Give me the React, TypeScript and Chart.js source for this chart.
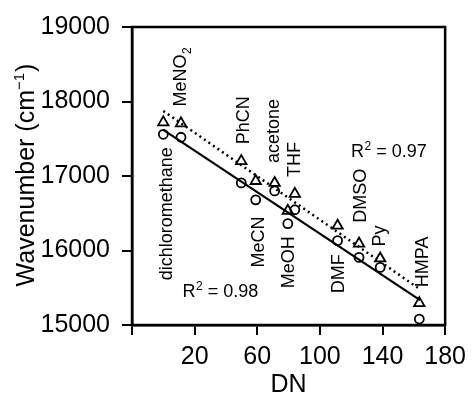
import React, { useEffect, useRef } from 'react';
import { Chart, registerables } from 'chart.js';

Chart.register(...registerables);

// ---- data ----
const solvents = ['dichloromethane', 'MeNO2', 'PhCN', 'MeCN', 'acetone', 'MeOH', 'THF', 'DMF', 'DMSO', 'Py', 'HMPA'];
const donorNumber = [0, 11.3, 49.8, 59, 71.1, 79.5, 84, 111.3, 125, 138.5, 163.5];
const circleWavenumber = [17560, 17520, 16907, 16680, 16800, 16360, 16547, 16133, 15907, 15773, 15080];
const triangleWavenumber = [17720, 17707, 17200, 16933, 16907, 16533, 16760, 16333, 16093, 15893, 15293];
const solidFitX = [0, 164];
const solidFitY = [17620, 15333];
const dottedFitX = [0, 163];
const dottedFitY = [17873, 15493];
const xTicks = [-20, 20, 60, 100, 140, 180];
const yTicks = [15000, 16000, 17000, 18000, 19000];
const r2Values = ['0.98', '0.97'];

// ---- annotation anchors (data coordinates) ----
const labelAnchorX = [5.3, 14.8, 54.7, 64.2, 73.7, 83.2, 87.6, 115.4, 129.4, 141.4, 169.2];
const labelAnchorY = [15600, 17933, 17427, 15773, 17173, 15493, 16987, 15427, 16373, 16053, 15507];
const r2AnchorX = [12.3, 119.9];
const r2AnchorY = [15373, 17253];

const FONT = '"Liberation Sans", Arial, Helvetica, sans-serif';

export default function App() {
  const ref = useRef<HTMLCanvasElement>(null);

  useEffect(() => {
    const canvas = ref.current!;
    const toPts = (xs: number[], ys: number[]) => xs.map((x, i) => ({ x, y: ys[i] }));

    const textPlugin = {
      id: 'textPlugin',
      afterDraw(chart: any) {
        const { ctx, chartArea, scales } = chart;
        const xs = scales.x;
        const ys = scales.y;
        ctx.save();
        // frame
        ctx.strokeStyle = '#000';
        ctx.lineWidth = 2.5;
        ctx.strokeRect(chartArea.left, chartArea.top, chartArea.right - chartArea.left, chartArea.bottom - chartArea.top);

        ctx.fillStyle = '#000';
        // solvent labels (rotated)
        solvents.forEach((s, i) => {
          const px = xs.getPixelForValue(labelAnchorX[i]);
          const py = ys.getPixelForValue(labelAnchorY[i]);
          ctx.save();
          ctx.translate(px, py);
          ctx.rotate(-Math.PI / 2);
          ctx.textAlign = 'left';
          ctx.textBaseline = 'alphabetic';
          ctx.font = `18px ${FONT}`;
          const m = s.match(/^(.*?)(\d+)$/);
          if (m) {
            ctx.fillText(m[1], 0, 0);
            const w = ctx.measureText(m[1]).width;
            ctx.font = `12px ${FONT}`;
            ctx.fillText(m[2], w + 0.5, 5);
          } else {
            ctx.fillText(s, 0, 0);
          }
          ctx.restore();
        });

        // R^2 labels
        r2Values.forEach((v, i) => {
          const px = xs.getPixelForValue(r2AnchorX[i]);
          const py = ys.getPixelForValue(r2AnchorY[i]);
          ctx.textAlign = 'left';
          ctx.textBaseline = 'alphabetic';
          ctx.font = `18px ${FONT}`;
          ctx.fillText('R', px, py);
          let w = ctx.measureText('R').width;
          ctx.font = `12px ${FONT}`;
          ctx.fillText('2', px + w + 0.5, py - 7);
          w += ctx.measureText('2').width + 0.5;
          ctx.font = `18px ${FONT}`;
          ctx.fillText(' = ' + v, px + w, py);
        });

        // y-axis title
        ctx.save();
        ctx.translate(34, (chartArea.top + chartArea.bottom) / 2 - 1);
        ctx.rotate(-Math.PI / 2);
        ctx.textBaseline = 'alphabetic';
        ctx.textAlign = 'left';
        const big = `25px ${FONT}`;
        const small = `15px ${FONT}`;
        ctx.font = big;
        const p1 = 'Wavenumber (cm';
        const w1 = ctx.measureText(p1).width;
        ctx.font = small;
        const p2 = '\u22121';
        const w2 = ctx.measureText(p2).width;
        ctx.font = big;
        const p3 = ')';
        const w3 = ctx.measureText(p3).width;
        const total = w1 + w2 + w3 + 1;
        let x0 = -total / 2;
        ctx.fillText(p1, x0, 0);
        x0 += w1;
        ctx.font = small;
        ctx.fillText(p2, x0, -10);
        x0 += w2 + 1;
        ctx.font = big;
        ctx.fillText(p3, x0, 0);
        ctx.restore();

        // x-axis title
        ctx.font = `25px ${FONT}`;
        ctx.textAlign = 'center';
        ctx.textBaseline = 'alphabetic';
        ctx.fillText('DN', (chartArea.left + chartArea.right) / 2, 392);
        ctx.restore();
      },
    };

    const chart = new Chart(canvas, {
      type: 'scatter',
      data: {
        datasets: [
          {
            label: 'fit (circles)',
            data: toPts(solidFitX, solidFitY),
            showLine: true,
            borderColor: '#000',
            borderWidth: 2.2,
            pointRadius: 0,
          },
          {
            label: 'fit (triangles)',
            data: toPts(dottedFitX, dottedFitY),
            showLine: true,
            borderColor: '#000',
            borderWidth: 2.5,
            borderDash: [2, 3.5],
            pointRadius: 0,
          },
          {
            label: 'circles',
            data: toPts(donorNumber, circleWavenumber),
            pointStyle: 'circle',
            pointRadius: 4.5,
            borderColor: '#000',
            borderWidth: 1.8,
            backgroundColor: 'rgba(0,0,0,0)',
          },
          {
            label: 'triangles',
            data: toPts(donorNumber, triangleWavenumber),
            pointStyle: 'triangle',
            pointRadius: 6,
            borderColor: '#000',
            borderWidth: 1.8,
            backgroundColor: 'rgba(0,0,0,0)',
          },
        ],
      } as any,
      options: {
        responsive: false,
        animation: false,
        devicePixelRatio: 1,
        events: [],
        layout: { padding: { left: 0, top: 25, right: 25, bottom: 0 } },
        plugins: { legend: { display: false }, tooltip: { enabled: false } },
        scales: {
          x: {
            type: 'linear',
            min: xTicks[0],
            max: xTicks[xTicks.length - 1],
            afterBuildTicks: (s: any) => {
              s.ticks = xTicks.map((v) => ({ value: v }));
            },
            ticks: {
              callback: (v: any) => (v === xTicks[0] ? '' : String(v)),
              font: { size: 25, family: FONT },
              color: '#000',
              padding: 7,
              maxRotation: 0,
              autoSkip: false,
            },
            grid: { drawOnChartArea: false, drawTicks: true, tickLength: 10, color: '#000', lineWidth: 2 },
            border: { display: true, color: '#000', width: 2.5 },
            afterFit: (s: any) => {
              s.height = 71;
            },
          },
          y: {
            type: 'linear',
            min: yTicks[0],
            max: yTicks[yTicks.length - 1],
            afterBuildTicks: (s: any) => {
              s.ticks = yTicks.map((v) => ({ value: v }));
            },
            ticks: {
              callback: (v: any) => String(v),
              font: { size: 25, family: FONT },
              color: '#000',
              padding: 12,
              autoSkip: false,
            },
            grid: { drawOnChartArea: false, drawTicks: true, tickLength: 10, color: '#000', lineWidth: 2 },
            border: { display: true, color: '#000', width: 2.5 },
            afterFit: (s: any) => {
              s.width = 132;
            },
          },
        },
      } as any,
      plugins: [textPlugin],
    });

    return () => chart.destroy();
  }, []);

  return (
    <div style={{ position: 'absolute', left: 0, top: 0, width: 473, height: 396, background: '#fff' }}>
      <canvas ref={ref} width={473} height={396} style={{ display: 'block', width: 473, height: 396 }} />
    </div>
  );
}
